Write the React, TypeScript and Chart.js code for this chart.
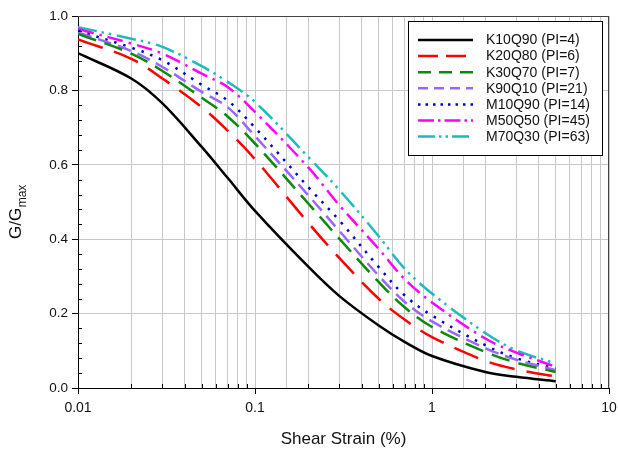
import React, { useEffect, useRef } from 'react';
import { Chart, registerables } from 'chart.js';

Chart.register(...registerables);

// ---- data ----
const strains = [0.01, 0.02, 0.03, 0.05, 0.07, 0.1, 0.2, 0.3, 0.5, 0.7, 1, 2, 3, 5];
const k10q90 = [0.900, 0.832, 0.765, 0.648, 0.565, 0.476, 0.326, 0.247, 0.168, 0.124, 0.086, 0.043, 0.030, 0.018];
const k20q80 = [0.937, 0.885, 0.832, 0.755, 0.692, 0.615, 0.444, 0.349, 0.240, 0.184, 0.137, 0.073, 0.050, 0.031];
const k30q70 = [0.952, 0.899, 0.852, 0.780, 0.730, 0.657, 0.496, 0.401, 0.285, 0.217, 0.164, 0.097, 0.068, 0.043];
const k90q10 = [0.956, 0.906, 0.863, 0.796, 0.755, 0.677, 0.518, 0.422, 0.302, 0.232, 0.179, 0.107, 0.076, 0.048];
const m10q90 = [0.960, 0.915, 0.881, 0.815, 0.773, 0.700, 0.540, 0.450, 0.325, 0.249, 0.195, 0.115, 0.080, 0.052];
const m50q50 = [0.965, 0.926, 0.899, 0.845, 0.809, 0.742, 0.593, 0.491, 0.374, 0.293, 0.230, 0.133, 0.095, 0.057];
const m70q30 = [0.970, 0.939, 0.917, 0.865, 0.823, 0.769, 0.621, 0.532, 0.408, 0.321, 0.254, 0.148, 0.101, 0.066];

const seriesNames = [
  'K10Q90 (PI=4)',
  'K20Q80 (PI=6)',
  'K30Q70 (PI=7)',
  'K90Q10 (PI=21)',
  'M10Q90 (PI=14)',
  'M50Q50 (PI=45)',
  'M70Q30 (PI=63)',
];
const seriesValues = [k10q90, k20q80, k30q70, k90q10, m10q90, m50q50, m70q30];
const xTickLabels = ['0.01', '0.1', '1', '10'];
const xTitle = 'Shear Strain (%)';
const yTitleMain = 'G/G';
const yTitleSub = 'max';

// ---- styles ----
const colors = ['#000000', '#ff0000', '#0a8a0a', '#9966ff', '#0000cc', '#ff00ff', '#1cbcbc'];
const plotDashes: number[][] = [
  [],
  [26, 12],
  [19, 9],
  [14, 7],
  [2.5, 7],
  [16, 6, 2.5, 6],
  [19, 5, 2.5, 5, 2.5, 6],
];
const legendDashes: number[][] = [
  [],
  [20, 8],
  [13, 8],
  [10, 6],
  [2.5, 5],
  [16, 4, 2.5, 4],
  [17, 4, 2.5, 4, 2.5, 4],
];
const FONT = "'Liberation Sans', Arial, sans-serif";

const decor = {
  id: 'decor',
  afterDraw(chart: any) {
    const { ctx, chartArea: a, scales } = chart;
    const x = scales.x;
    const y = scales.y;
    ctx.save();
    // frame (top & right)
    ctx.strokeStyle = '#444';
    ctx.lineWidth = 1;
    ctx.setLineDash([]);
    ctx.beginPath();
    ctx.moveTo(a.left, Math.round(a.top) + 0.5);
    ctx.lineTo(a.right, Math.round(a.top) + 0.5);
    ctx.moveTo(Math.round(a.right) - 0.5, a.top);
    ctx.lineTo(Math.round(a.right) - 0.5, a.bottom);
    ctx.stroke();

    // minor ticks (inward)
    ctx.strokeStyle = '#000';
    ctx.beginPath();
    for (let i = 1; i < 25; i++) {
      if (i % 5 === 0) continue;
      const py = Math.round(y.getPixelForValue(i * 0.04)) + 0.5;
      ctx.moveTo(a.left, py);
      ctx.lineTo(a.left + 4, py);
    }
    for (let e = -2; e < 1; e++) {
      for (let s = 2; s <= 9; s++) {
        const px = Math.round(x.getPixelForValue(s * Math.pow(10, e))) + 0.5;
        ctx.moveTo(px, a.bottom);
        ctx.lineTo(px, a.bottom - 4);
      }
    }
    ctx.stroke();

    // legend
    const lx = 408.5, ly = 21.5, lw = 194, lh = 134;
    ctx.fillStyle = '#fff';
    ctx.fillRect(lx, ly, lw, lh);
    ctx.strokeStyle = '#000';
    ctx.lineWidth = 1;
    ctx.strokeRect(lx, ly, lw, lh);
    ctx.font = `14px ${FONT}`;
    ctx.textBaseline = 'middle';
    ctx.textAlign = 'left';
    seriesNames.forEach((name, i) => {
      const ry = 40 + i * 16.1;
      ctx.strokeStyle = colors[i];
      ctx.lineWidth = 2.5;
      ctx.setLineDash(legendDashes[i]);
      ctx.beginPath();
      ctx.moveTo(418, ry);
      ctx.lineTo(473, ry);
      ctx.stroke();
      ctx.setLineDash([]);
      ctx.fillStyle = '#111';
      ctx.fillText(name, 486, ry + 0.5);
    });

    // x title
    ctx.fillStyle = '#111';
    ctx.font = `17px ${FONT}`;
    ctx.textAlign = 'center';
    ctx.textBaseline = 'alphabetic';
    ctx.fillText(xTitle, (a.left + a.right) / 2, 444);

    // y title with subscript
    ctx.translate(21, 239);
    ctx.rotate(-Math.PI / 2);
    ctx.textAlign = 'left';
    ctx.font = `17px ${FONT}`;
    ctx.fillText(yTitleMain, 0, 0);
    const w = ctx.measureText(yTitleMain).width;
    ctx.font = `12px ${FONT}`;
    ctx.fillText(yTitleSub, w + 0.5, 5);
    ctx.restore();
  },
};

export default function App() {
  const ref = useRef<HTMLCanvasElement | null>(null);

  useEffect(() => {
    if (!ref.current) return;
    Chart.defaults.font.family = FONT;
    const isDecade = (v: number) => Math.abs(Math.log10(v) - Math.round(Math.log10(v))) < 1e-6;
    const chart = new Chart(ref.current, {
      type: 'line',
      data: {
        datasets: seriesNames.map((name, i) => ({
          label: name,
          data: strains.map((s, j) => ({ x: s, y: seriesValues[i][j] })),
          borderColor: colors[i],
          backgroundColor: colors[i],
          borderWidth: 2.5,
          borderDash: plotDashes[i],
          pointRadius: 0,
          fill: false,
          tension: 0.35,
        })),
      },
      options: {
        responsive: false,
        animation: false,
        layout: { padding: { top: 16, right: 0, left: 0, bottom: 0 } },
        plugins: {
          legend: { display: false },
          tooltip: { enabled: false },
          title: { display: false },
        },
        scales: {
          x: {
            type: 'logarithmic',
            min: 0.01,
            max: 10,
            afterFit: (s: any) => {
              s.height = 62;
              s.paddingRight = 9;
            },
            border: { color: '#000', width: 1 },
            grid: {
              color: '#c8c8c8',
              lineWidth: 1,
              tickLength: 6,
              tickColor: (c: any) => (c.tick && isDecade(c.tick.value) ? '#000' : 'rgba(0,0,0,0)'),
            },
            ticks: {
              autoSkip: false,
              maxRotation: 0,
              padding: 6,
              color: '#111',
              font: { size: 14 },
              callback: (v: any) => {
                const n = Number(v);
                if (!isDecade(n)) return '';
                const idx = Math.round(Math.log10(n)) + 2;
                return xTickLabels[idx] ?? '';
              },
            },
          },
          y: {
            min: 0,
            max: 1,
            afterFit: (s: any) => {
              s.width = 78;
            },
            border: { color: '#000', width: 1 },
            grid: {
              color: '#c8c8c8',
              lineWidth: 1,
              tickLength: 6,
              tickColor: '#000',
            },
            ticks: {
              stepSize: 0.2,
              padding: 4,
              color: '#111',
              font: { size: 13.5 },
              callback: (v: any) => Number(v).toFixed(1),
            },
          },
        },
      },
      plugins: [decor],
    });
    return () => chart.destroy();
  }, []);

  return (
    <div style={{ position: 'fixed', left: 0, top: 0, width: 618, height: 450, background: '#fff' }}>
      <canvas ref={ref} width={618} height={450} style={{ display: 'block' }} />
    </div>
  );
}
